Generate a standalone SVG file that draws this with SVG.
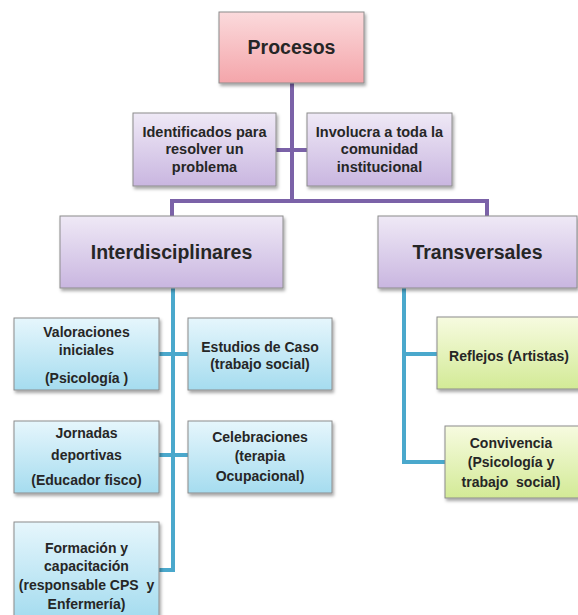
<svg xmlns="http://www.w3.org/2000/svg" width="578" height="615" viewBox="0 0 578 615">
<defs>
<linearGradient id="gPink" x1="0" y1="0" x2="0" y2="1"><stop offset="0" stop-color="#fbdadc"/><stop offset="1" stop-color="#f4a5aa"/></linearGradient>
<linearGradient id="gLav" x1="0" y1="0" x2="0" y2="1"><stop offset="0" stop-color="#efe9f6"/><stop offset="1" stop-color="#c9b6e0"/></linearGradient>
<linearGradient id="gBlue" x1="0" y1="0" x2="0" y2="1"><stop offset="0" stop-color="#e6f6fc"/><stop offset="1" stop-color="#a5dcef"/></linearGradient>
<linearGradient id="gGreen" x1="0" y1="0" x2="0" y2="1"><stop offset="0" stop-color="#f7fbe0"/><stop offset="1" stop-color="#d3ea96"/></linearGradient>
<filter id="sh" x="-10%" y="-10%" width="130%" height="140%"><feDropShadow dx="1.5" dy="2.5" stdDeviation="1.5" flood-color="#000" flood-opacity="0.35"/></filter>
</defs>
<style>
.box{stroke:#8c8c8c;stroke-width:1;filter:url(#sh)}
.pink{fill:url(#gPink)}
.lav{fill:url(#gLav)}
.blue{fill:url(#gBlue)}
.green{fill:url(#gGreen)}
text{font-family:"Liberation Sans",Arial,sans-serif;font-weight:bold;fill:#262626;text-anchor:middle;white-space:pre}
.t1{font-size:19.5px}
.t2{font-size:14.5px}
.t3{font-size:14px}
.cp{stroke:#7b62a8;stroke-width:4;fill:none}
.ct{stroke:#4aa8cc;stroke-width:4;fill:none}
</style>
<g id="connectors">
<path class="cp" d="M292 83 V201 M276 150 H307 M172 216 V201 H487 V216"/>
<path class="ct" d="M173 288 V570 H159 M159 354 H188 M159 455 H188"/>
<path class="ct" d="M404 288 V462 H445 M404 354 H437"/>
</g>
<g id="procesos"><rect class="box pink" x="219" y="12" width="145" height="71"/><text class="t1" x="291.5" y="54">Procesos</text></g>
<g id="identificados"><rect class="box lav" x="133" y="113" width="143" height="73"/><text class="t2" x="204.5" y="137">Identificados para</text><text class="t2" x="204.5" y="154">resolver un</text><text class="t2" x="204.5" y="172">problema</text></g>
<g id="involucra"><rect class="box lav" x="307" y="113" width="145" height="73"/><text class="t2" x="379.5" y="137">Involucra a toda la</text><text class="t2" x="379.5" y="154">comunidad</text><text class="t2" x="379.5" y="172">institucional</text></g>
<g id="interdisciplinares"><rect class="box lav" x="60" y="216" width="223" height="72"/><text class="t1" x="171.5" y="259">Interdisciplinares</text></g>
<g id="transversales"><rect class="box lav" x="378" y="216" width="199" height="72"/><text class="t1" x="477.5" y="259">Transversales</text></g>
<g id="valoraciones"><rect class="box blue" x="14" y="318" width="145" height="72"/><text class="t3" x="86.5" y="337">Valoraciones</text><text class="t3" x="86.5" y="355">iniciales</text><text class="t3" x="86.5" y="383">(Psicología )</text></g>
<g id="estudios"><rect class="box blue" x="188" y="318" width="144" height="72"/><text class="t3" x="260" y="352">Estudios de Caso</text><text class="t3" x="260" y="369">(trabajo social)</text></g>
<g id="jornadas"><rect class="box blue" x="14" y="421" width="145" height="72"/><text class="t3" x="86.5" y="438">Jornadas</text><text class="t3" x="86.5" y="460">deportivas</text><text class="t3" x="86.5" y="485">(Educador fisco)</text></g>
<g id="celebraciones"><rect class="box blue" x="188" y="421" width="144" height="72"/><text class="t3" x="260" y="442">Celebraciones</text><text class="t3" x="260" y="461">(terapia</text><text class="t3" x="260" y="481">Ocupacional)</text></g>
<g id="formacion"><rect class="box blue" x="14" y="522" width="145" height="96"/><text class="t3" x="86.5" y="553">Formación y</text><text class="t3" x="86.5" y="571">capacitación</text><text class="t3" x="86.5" y="590">(responsable CPS  y</text><text class="t3" x="86.5" y="609">Enfermería)</text></g>
<g id="reflejos"><rect class="box green" x="437" y="317" width="143" height="72"/><text class="t3" x="509" y="361">Reflejos (Artistas)</text></g>
<g id="convivencia"><rect class="box green" x="445" y="426" width="135" height="72"/><text class="t3" x="511" y="448">Convivencia</text><text class="t3" x="511" y="467">(Psicología y</text><text class="t3" x="511" y="487">trabajo  social)</text></g>
</svg>
